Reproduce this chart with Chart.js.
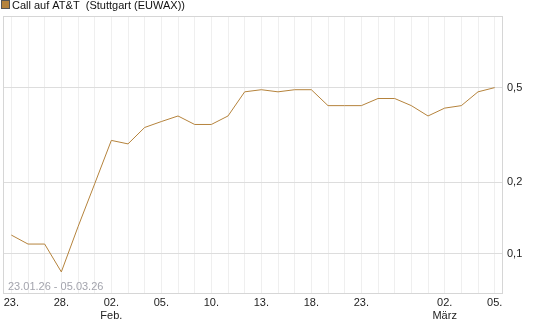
<!DOCTYPE html>
<html>
  <head>
    <meta charset="UTF-8" />
    <script src="https://cdn.jsdelivr.net/npm/chart.js"></script>
    <style>
      html, body { margin: 0; padding: 0; background: #fff; }
      #wrap { width: 545px; height: 327px; position: relative; }
    </style>
  </head>
  <body>
    <div id="wrap"><canvas id="chartLine"></canvas></div>
    <script>
      // trading days 23.01.26 - 05.03.26
      const days = ["23", "26", "27", "28", "29", "30",
        "02", "03", "04", "05", "06", "09", "10", "11", "12", "13",
        "16", "17", "18", "19", "20", "23", "24", "25", "26", "27",
        "02", "03", "04", "05"];
      const months = ["Jan", "Jan", "Jan", "Jan", "Jan", "Jan",
        "Feb", "Feb", "Feb", "Feb", "Feb", "Feb", "Feb", "Feb", "Feb", "Feb",
        "Feb", "Feb", "Feb", "Feb", "Feb", "Feb", "Feb", "Feb", "Feb", "Feb",
        "Mar", "Mar", "Mar", "Mar"];
      const prices = [0.12, 0.11, 0.11, 0.084, 0.13, 0.197,
        0.30, 0.29, 0.34, 0.36, 0.38, 0.35, 0.35, 0.38, 0.48, 0.49,
        0.48, 0.49, 0.49, 0.42, 0.42, 0.42, 0.45, 0.45, 0.42, 0.38,
        0.41, 0.42, 0.48, 0.50];
      const shownTicks = [0, 3, 6, 9, 12, 15, 18, 21, 26, 29];
      const monthNames = { 6: "Feb.", 26: "März" };
      const yTicks = [0.1, 0.2, 0.5];

      const lineColor = "rgb(181, 131, 60)";
      const font = "Liberation Sans, Arial, sans-serif";

      const frame = {
        id: "frame",
        beforeDatasetsDraw(chart) {
          const a = chart.chartArea;
          const ctx = chart.ctx;
          ctx.save();
          ctx.strokeStyle = "#d6d6d6";
          ctx.lineWidth = 1;
          ctx.strokeRect(a.left + 0.5, a.top + 0.5, a.right - a.left - 1, a.bottom - a.top);
          ctx.font = "11px " + font;
          ctx.fillStyle = "#a3a4ad";
          ctx.textBaseline = "alphabetic";
          ctx.fillText("23.01.26 - 05.03.26", 8, 290);
          ctx.restore();
        },
        afterDraw(chart) {
          const ctx = chart.ctx;
          ctx.save();
          ctx.fillStyle = lineColor;
          ctx.fillRect(2, 1, 7, 7);
          ctx.strokeStyle = "#555";
          ctx.strokeRect(1.5, 0.5, 8, 8);
          ctx.font = "11px " + font;
          ctx.fillStyle = "#111";
          ctx.textBaseline = "alphabetic";
          ctx.fillText("Call auf AT&T  (Stuttgart (EUWAX))", 12, 9);
          ctx.restore();
        },
      };

      new Chart(document.getElementById("chartLine"), {
        type: "line",
        data: {
          labels: days,
          datasets: [
            {
              label: "Call auf AT&T",
              data: prices,
              borderColor: lineColor,
              borderWidth: 1,
              pointRadius: 0,
              tension: 0,
            },
          ],
        },
        options: {
          responsive: true,
          maintainAspectRatio: false,
          animation: false,
          layout: { padding: { left: 3, top: 16, right: 0, bottom: 0 } },
          plugins: { legend: { display: false }, tooltip: { enabled: false } },
          scales: {
            x: {
              offset: true,
              grid: { offset: false, color: "#efefef", drawTicks: false },
              border: { display: false },
              afterFit(scale) { scale.height = 34; },
              ticks: {
                autoSkip: false,
                maxRotation: 0,
                padding: 3,
                color: "#222",
                font: { family: font, size: 11, lineHeight: 1.2 },
                callback(v, i) {
                  if (!shownTicks.includes(i)) return "";
                  const d = days[i] + ".";
                  return monthNames[i] ? [d, monthNames[i]] : d;
                },
              },
            },
            y: {
              type: "logarithmic",
              position: "right",
              min: 0.0685,
              max: 1.0,
              grid: { color: "#dddddd", drawTicks: false },
              border: { display: false },
              afterFit(scale) { scale.width = 42; },
              afterBuildTicks(scale) {
                scale.ticks = yTicks.map((v) => ({ value: v }));
              },
              ticks: {
                padding: 4,
                color: "#222",
                font: { family: font, size: 11 },
                callback: (v) => String(v).replace(".", ","),
              },
            },
          },
        },
        plugins: [frame],
      });
    </script>
  </body>
</html>
